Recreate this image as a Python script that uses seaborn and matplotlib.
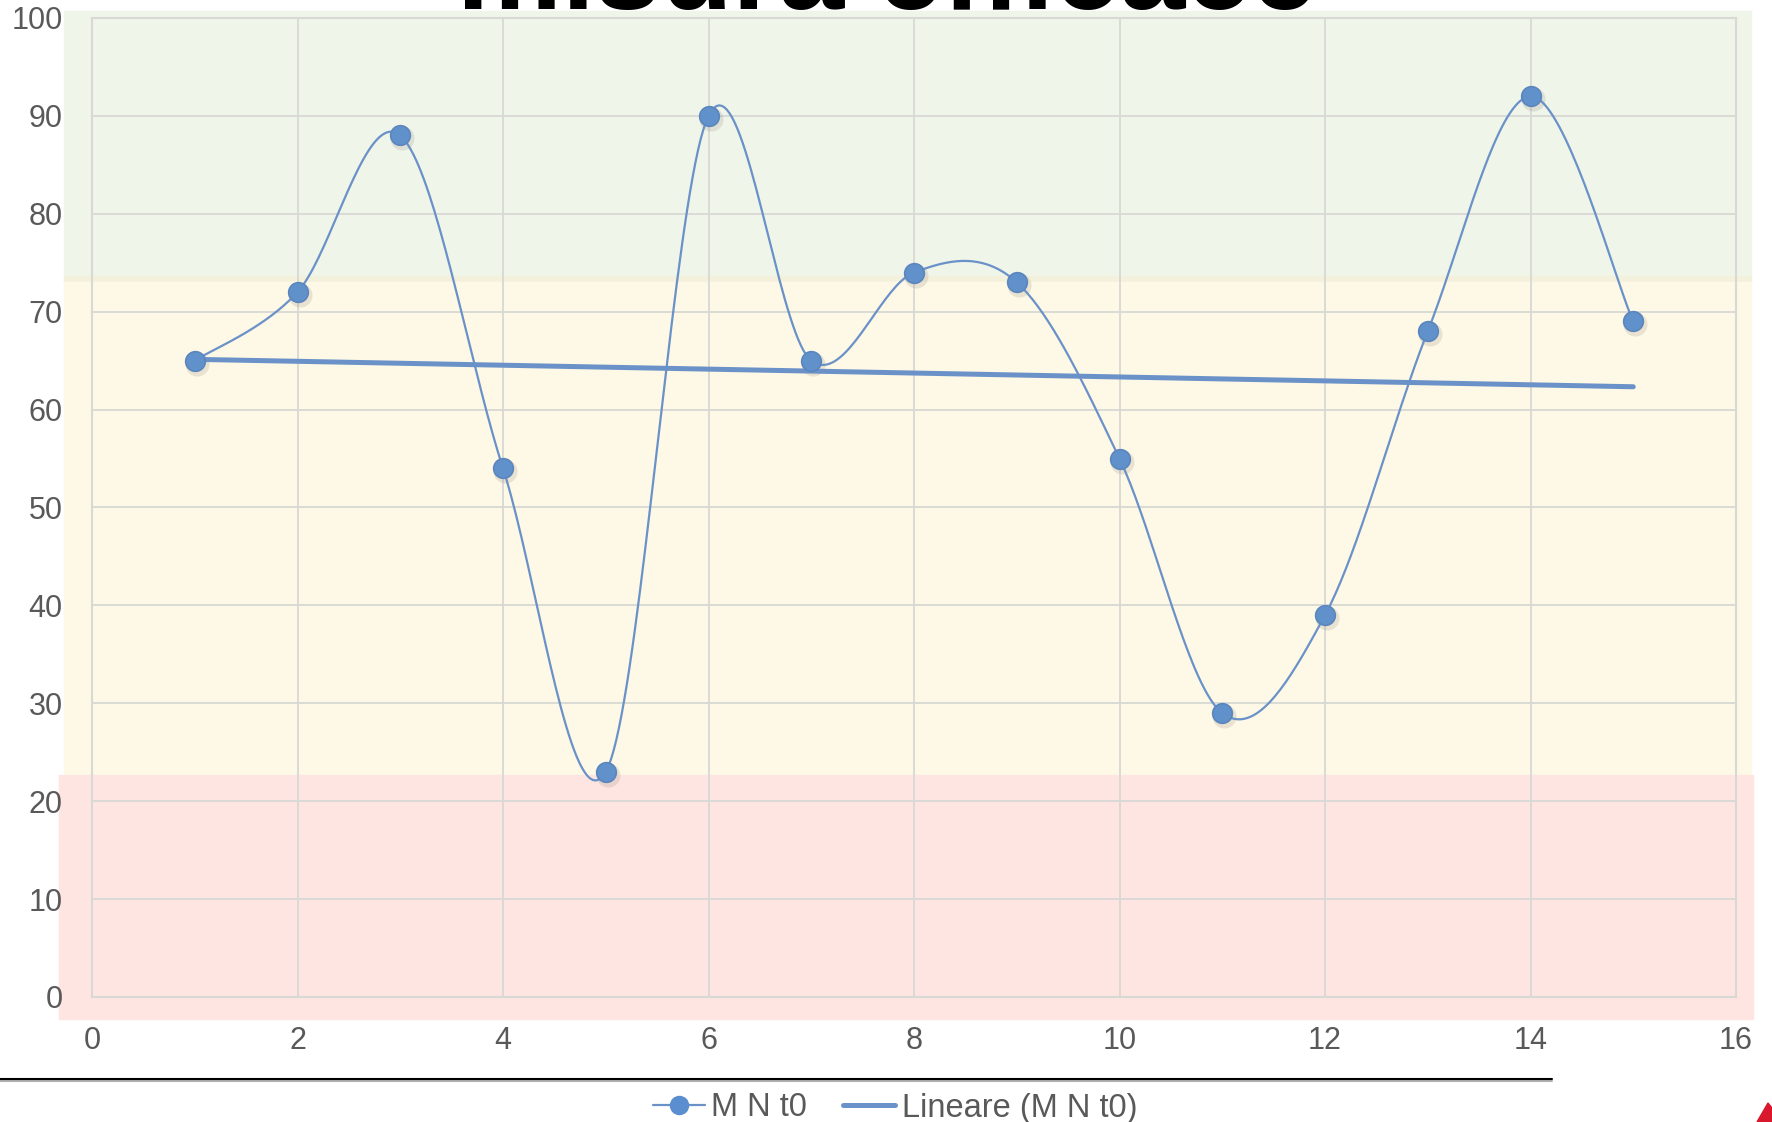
import numpy as np
import pandas as pd
import seaborn as sns
import matplotlib.pyplot as plt
from matplotlib.patches import Rectangle, Polygon
from matplotlib.lines import Line2D
from matplotlib.transforms import offset_copy

# dati
x_vals = [1, 2, 3, 4, 5, 6, 7, 8, 9, 10, 11, 12, 13, 14, 15]
mnt0 = [65, 72, 88, 54, 23, 90, 65, 74, 73, 55, 29, 39, 68, 92, 69]
x_ticks = [0, 2, 4, 6, 8, 10, 12, 14, 16]
y_ticks = [0, 10, 20, 30, 40, 50, 60, 70, 80, 90, 100]
title_text = "misura efficace"
series_name = "M N t0"
trend_name = "Lineare (M N t0)"

df = pd.DataFrame({"x": x_vals, "y": mnt0})

# linea smussata stile Excel (bezier con punti di controllo a 1/6)
def smooth_curve(xs, ys, n=40):
    p = np.column_stack([xs, ys]).astype(float)
    pp = np.vstack([p[0], p, p[-1]])
    out = []
    t = np.linspace(0, 1, n)[:, None]
    for i in range(len(p) - 1):
        p0, p1 = pp[i + 1], pp[i + 2]
        c1 = p0 + (pp[i + 2] - pp[i]) / 6
        c2 = p1 - (pp[i + 3] - pp[i + 1]) / 6
        seg = (1 - t) ** 3 * p0 + 3 * (1 - t) ** 2 * t * c1 + 3 * (1 - t) * t ** 2 * c2 + t ** 3 * p1
        out.append(seg if i == 0 else seg[1:])
    return np.vstack(out)

curve = smooth_curve(df["x"], df["y"])
curve_df = pd.DataFrame({"x": curve[:, 0], "y": curve[:, 1]})

# linea di tendenza lineare
slope, intercept = np.polyfit(df["x"], df["y"], 1)
trend_df = pd.DataFrame({"x": [df["x"].min(), df["x"].max()]})
trend_df["y"] = slope * trend_df["x"] + intercept

sns.set_style("white")
plt.rcParams["font.family"] = ["Liberation Sans", "DejaVu Sans"]

W, H = 1772, 1122
fig = plt.figure(figsize=(W / 100, H / 100), dpi=100)

def fx(px):
    return px / W

def fy(py):
    return 1 - py / H

# fasce colorate dietro il grafico
bands = [
    (64, 11, 1751, 282, "#f0f5ea"),
    (64, 276, 1751, 282, "#f3f1dc"),
    (64, 282, 1751, 774, "#fef8e6"),
    (59, 775, 1753, 1019, "#fee5e1"),
]
for x0, y0, x1, y1, c in bands:
    fig.patches.append(Rectangle((fx(x0), fy(y1)), fx(x1) - fx(x0), fy(y0) - fy(y1),
                                 transform=fig.transFigure, color=c, zorder=-5))

ax = fig.add_axes([fx(92), fy(997), fx(1736) - fx(92), fy(18) - fy(997)])
ax.set_zorder(2)
ax.set_facecolor("none")

grid_c = "#d8d8d4"
for v in x_ticks:
    ax.axvline(v, color=grid_c, lw=1.3, zorder=1)
for v in y_ticks:
    ax.axhline(v, color=grid_c, lw=1.3, zorder=1)

line_c = "#6a92c8"
sns.lineplot(data=curve_df, x="x", y="y", sort=False, estimator=None, color=line_c,
             lw=1.6, ax=ax, zorder=3)
sns.lineplot(data=trend_df, x="x", y="y", sort=False, estimator=None, color=line_c,
             lw=3.6, ax=ax, zorder=3)

# ombra dei marcatori
shadow = offset_copy(ax.transData, fig=fig, x=2, y=-3, units="dots")
ax.scatter(df["x"], df["y"], s=300, color="#8a8070", alpha=0.18, lw=0,
           transform=shadow, zorder=2)
sns.scatterplot(data=df, x="x", y="y", s=200, color="#6191cb", edgecolor="#5b86bd",
                linewidth=1.2, ax=ax, zorder=4)

ax.set_xlim(0, 16)
ax.set_ylim(0, 100)
ax.set_xticks(x_ticks)
ax.set_yticks(y_ticks)
ax.set_xlabel("")
ax.set_ylabel("")
ax.tick_params(axis="both", length=0, labelsize=22, labelcolor="#595959")
ax.tick_params(axis="y", pad=21)
ax.tick_params(axis="x", pad=21)
for s in ax.spines.values():
    s.set_color(grid_c)
    s.set_linewidth(1.5)

# titolo tagliato in alto (come nell'originale)
fig.text(fx(887), fy(9), title_text, ha="center", va="baseline", fontsize=85,
         fontweight="bold", color="black", zorder=6)

# riga orizzontale sotto il grafico
fig.lines.append(Line2D([0, fx(1552)], [fy(1081), fy(1081)], transform=fig.transFigure,
                        color="#b0b0b0", lw=1.5))
fig.lines.append(Line2D([0, fx(1552)], [fy(1079), fy(1079)], transform=fig.transFigure,
                        color="black", lw=1.5))

handles = [
    Line2D([], [], color=line_c, lw=1.6, marker="o", markersize=13,
           markerfacecolor="#5b8ed0", markeredgecolor="#5b8ed0"),
    Line2D([], [], color=line_c, lw=3.6),
]
fig.legend(handles, [series_name, trend_name], loc="center", ncol=2, frameon=False,
           bbox_to_anchor=(fx(895), fy(1108)), fontsize=23.5, labelcolor="#595959",
           handlelength=1.6, handletextpad=0.2, columnspacing=1.1, borderpad=0)

# logo rosso in basso a destra
fig.patches.append(Polygon([[fx(1757), fy(1122)], [fx(1768), fy(1103)], [fx(1772), fy(1108)],
                            [fx(1772), fy(1122)]], transform=fig.transFigure,
                           color="#d9182d", zorder=5))

fig.savefig("out.png", dpi=100)
